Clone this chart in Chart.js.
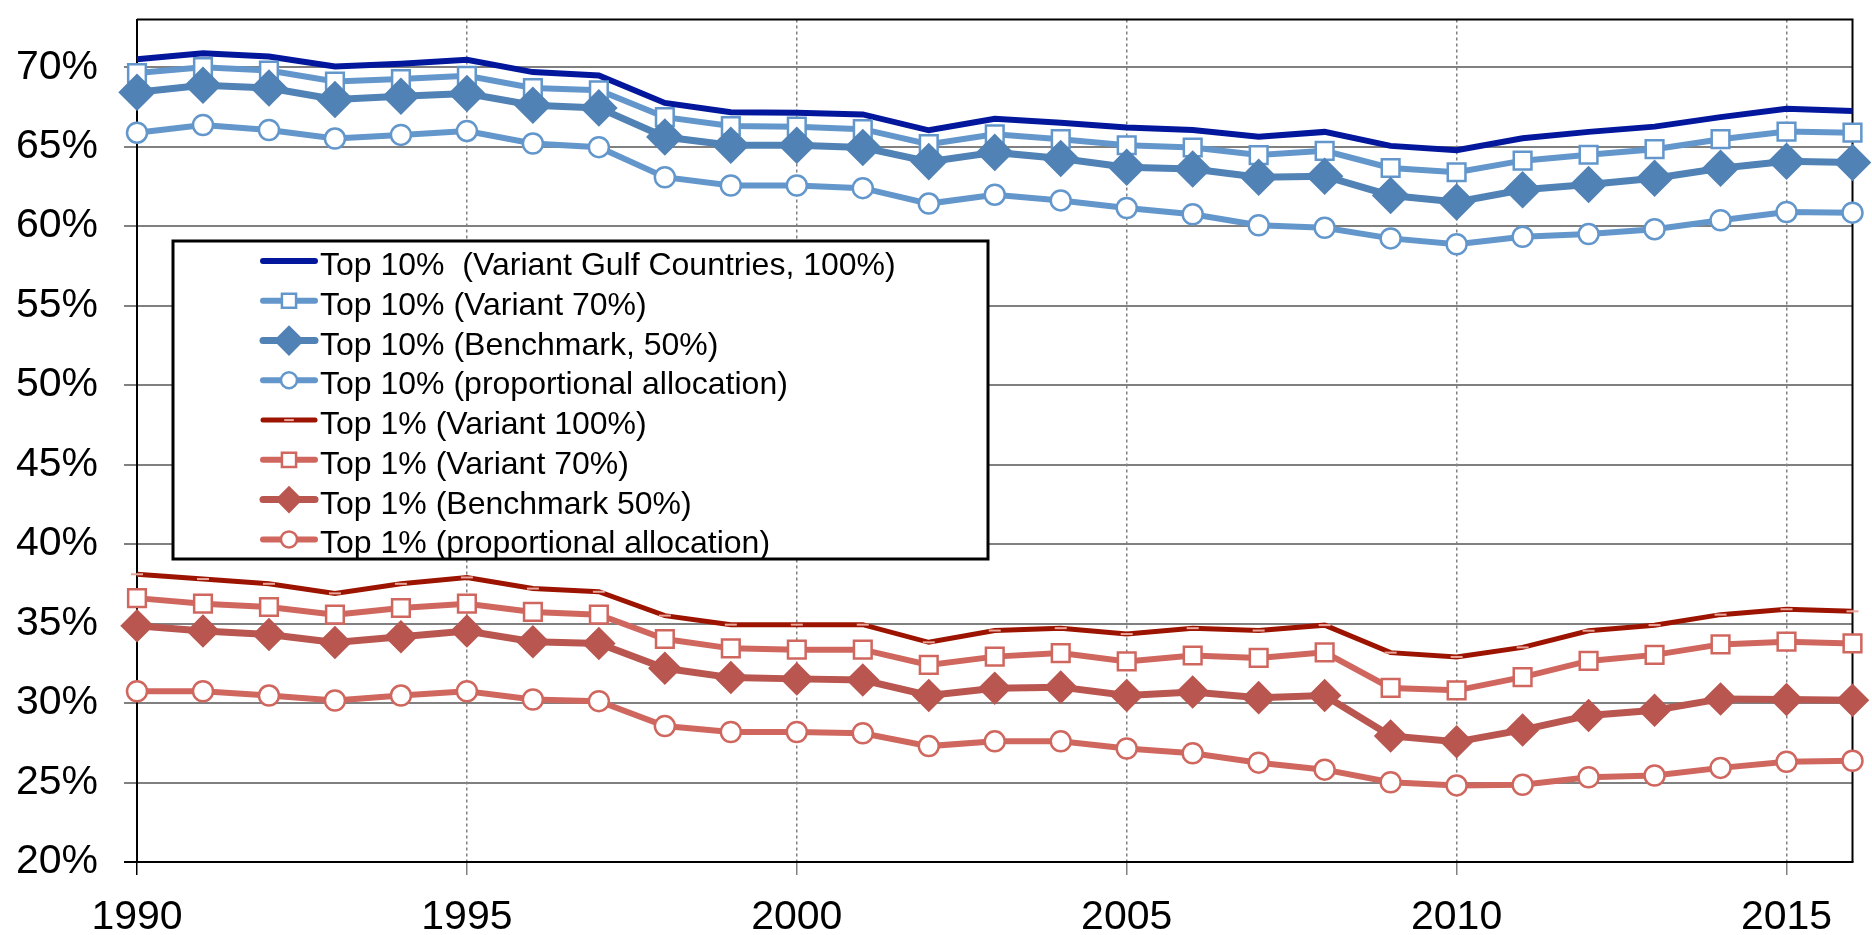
<!DOCTYPE html>
<html>
<head>
<meta charset="utf-8">
<script src="https://cdn.jsdelivr.net/npm/chart.js@4.4.0/dist/chart.umd.min.js"></script>
<style>
  html, body { margin: 0; padding: 0; background: #fff; }
  #wrap { width: 1872px; height: 935px; }
</style>
</head>
<body>
<div id="wrap"><canvas id="myChart"></canvas></div>
<script>
const years = [1990, 1991, 1992, 1993, 1994, 1995, 1996, 1997, 1998, 1999, 2000, 2001, 2002, 2003,
    2004, 2005, 2006, 2007, 2008, 2009, 2010, 2011, 2012, 2013, 2014, 2015, 2016];

const top10Gulf = [70.5, 70.87, 70.67, 70.04, 70.21, 70.46, 69.69, 69.48, 67.75, 67.17, 67.13, 67.03, 66.03, 66.76,
    66.51, 66.2, 66.05, 65.63, 65.93, 65.05, 64.78, 65.53, 65.93, 66.26, 66.86, 67.38, 67.24];
const top10V70 = [69.63, 70.0, 69.79, 69.1, 69.25, 69.46, 68.69, 68.55, 66.86, 66.3, 66.26, 66.1, 65.16, 65.78,
    65.47, 65.09, 64.95, 64.47, 64.74, 63.66, 63.39, 64.12, 64.49, 64.84, 65.47, 65.95, 65.88];
const top10Bench = [68.42, 68.86, 68.69, 67.97, 68.17, 68.34, 67.61, 67.44, 65.61, 65.09, 65.09, 64.95, 64.06, 64.64,
    64.26, 63.7, 63.6, 63.08, 63.14, 61.93, 61.52, 62.29, 62.62, 63.01, 63.64, 64.08, 64.01];
const top10Prop = [65.88, 66.36, 66.05, 65.51, 65.74, 65.99, 65.2, 64.97, 63.08, 62.56, 62.56, 62.39, 61.42, 61.98,
    61.62, 61.14, 60.75, 60.06, 59.9, 59.23, 58.86, 59.33, 59.5, 59.81, 60.37, 60.89, 60.85];
const top1V100 = [38.1, 37.8, 37.5, 36.9, 37.5, 37.9, 37.2, 37.0, 35.5, 34.93, 34.93, 34.93, 33.82, 34.56,
    34.71, 34.34, 34.71, 34.56, 34.9, 33.17, 32.9, 33.5, 34.55, 34.9, 35.56, 35.9, 35.77];
const top1V70 = [36.6, 36.25, 36.04, 35.56, 35.98, 36.25, 35.73, 35.56, 34.03, 33.44, 33.36, 33.36, 32.4, 32.92,
    33.14, 32.62, 32.99, 32.84, 33.19, 30.95, 30.8, 31.63, 32.65, 33.03, 33.69, 33.86, 33.75];
const top1Bench = [34.86, 34.53, 34.31, 33.81, 34.17, 34.53, 33.86, 33.75, 32.19, 31.6, 31.52, 31.45, 30.48, 30.93,
    31.0, 30.48, 30.7, 30.34, 30.47, 27.93, 27.56, 28.31, 29.22, 29.55, 30.26, 30.22, 30.18];
const top1Prop = [30.74, 30.74, 30.47, 30.16, 30.47, 30.74, 30.22, 30.12, 28.55, 28.18, 28.18, 28.1, 27.29, 27.59,
    27.59, 27.14, 26.84, 26.25, 25.81, 25.02, 24.82, 24.86, 25.33, 25.44, 25.92, 26.31, 26.37];

const seriesLabels = [
    'Top 10%  (Variant Gulf Countries, 100%)',
    'Top 10% (Variant 70%)',
    'Top 10% (Benchmark, 50%)',
    'Top 10% (proportional allocation)',
    'Top 1% (Variant 100%)',
    'Top 1% (Variant 70%)',
    'Top 1% (Benchmark 50%)',
    'Top 1% (proportional allocation)'
];

const yTicks = [20, 25, 30, 35, 40, 45, 50, 55, 60, 65, 70];
const xTicks = [1990, 1995, 2000, 2005, 2010, 2015];

Chart.defaults.font.family = "'Liberation Sans', Arial, sans-serif";
Chart.defaults.color = '#000';

function pts(vals) {
    return years.map((yr, i) => ({x: yr, y: vals[i]}));
}

function ds(label, vals, color, width, style, radius, fill, ptBorder, ptWidth) {
    return {
        label: label,
        data: pts(vals),
        borderColor: color,
        backgroundColor: fill,
        borderWidth: width,
        pointStyle: style,
        pointRadius: radius,
        pointHoverRadius: radius,
        pointBackgroundColor: fill,
        pointBorderColor: ptBorder || color,
        pointBorderWidth: ptWidth || 2.5,
        tension: 0,
        clip: false
    };
}

const datasets = [
    ds(seriesLabels[0], top10Gulf, '#03179c', 6, 'circle', 0, '#03179c'),
    ds(seriesLabels[1], top10V70, '#6397cc', 6, 'rect', 12.5, '#fff'),
    ds(seriesLabels[2], top10Bench, '#5182b6', 7, 'rectRot', 17, '#5182b6'),
    ds(seriesLabels[3], top10Prop, '#6397cc', 6, 'circle', 10, '#fff'),
    ds(seriesLabels[4], top1V100, '#9c1400', 5, 'line', 6, '#9c1400', '#eaa79c', 2),
    ds(seriesLabels[5], top1V70, '#d0675f', 6, 'rect', 12.5, '#fff'),
    ds(seriesLabels[6], top1Bench, '#b9564f', 7, 'rectRot', 15, '#b9564f'),
    ds(seriesLabels[7], top1Prop, '#d0675f', 6, 'circle', 10, '#fff')
];
// later series on top, like the original
datasets.forEach((d, i) => { d.order = datasets.length - i; });

const frame = {
    id: 'frame',
    beforeDatasetsDraw(chart) {
        const a = chart.chartArea, ctx = chart.ctx;
        ctx.save();
        ctx.strokeStyle = '#000';
        ctx.lineWidth = 2;
        ctx.beginPath();
        ctx.moveTo(a.left, a.top);
        ctx.lineTo(a.right, a.top);
        ctx.lineTo(a.right, a.bottom);
        ctx.stroke();
        ctx.restore();
    }
};

const boxLegend = {
    id: 'boxLegend',
    afterDatasetsDraw(chart) {
        const ctx = chart.ctx;
        const bx = 173, by = 241, bw = 815, bh = 318, row = 39.77;
        ctx.save();
        ctx.fillStyle = '#fff';
        ctx.fillRect(bx, by, bw, bh);
        ctx.lineWidth = 3;
        ctx.strokeStyle = '#000';
        ctx.strokeRect(bx, by, bw, bh);
        chart.data.datasets.forEach((d, i) => {
            const ly = by + 20 + i * row;
            ctx.strokeStyle = d.borderColor;
            ctx.lineWidth = d.borderWidth;
            ctx.lineCap = 'round';
            ctx.beginPath();
            ctx.moveTo(263, ly);
            ctx.lineTo(315, ly);
            ctx.stroke();
            if (d.pointRadius > 0) {
                ctx.fillStyle = d.pointBackgroundColor;
                ctx.strokeStyle = d.pointBorderColor;
                ctx.lineWidth = d.pointBorderWidth;
                ctx.lineCap = 'butt';
                Chart.helpers.drawPoint(ctx, {
                    pointStyle: d.pointStyle,
                    radius: d.pointRadius * 0.8,
                    borderWidth: d.pointBorderWidth,
                    rotation: 0
                }, 289, ly);
            }
            ctx.fillStyle = '#000';
            ctx.font = "32px 'Liberation Sans', Arial, sans-serif";
            ctx.textBaseline = 'alphabetic';
            ctx.textAlign = 'left';
            ctx.fillText(d.label, 320, ly + 14);
        });
        ctx.restore();
    }
};

const ctx = document.getElementById('myChart');
new Chart(ctx, {
    type: 'line',
    data: {datasets: datasets},
    options: {
        responsive: true,
        maintainAspectRatio: false,
        animation: false,
        events: [],
        layout: {padding: {left: 0, top: 13, right: 10, bottom: 0}},
        plugins: {legend: {display: false}, tooltip: {enabled: false}},
        scales: {
            x: {
                type: 'linear',
                min: 1990,
                max: 2016,
                afterBuildTicks: s => { s.ticks = xTicks.map(v => ({value: v})); },
                afterFit: s => { s.height = 73; s.paddingLeft = 0; s.paddingRight = 0; },
                grid: {
                    color: '#808080',
                    lineWidth: 1.5,
                    tickLength: 13,
                    tickColor: c => c.index === 0 ? '#000' : '#808080'
                },
                border: {display: true, color: '#000', width: 2, dash: [3, 3]},
                ticks: {
                    font: {size: 41},
                    padding: 18,
                    maxRotation: 0,
                    callback: v => String(v)
                }
            },
            y: {
                type: 'linear',
                min: 20,
                max: 73,
                afterBuildTicks: s => { s.ticks = yTicks.map(v => ({value: v})); },
                afterFit: s => { s.width = 137; s.paddingTop = 0; s.paddingBottom = 0; },
                grid: {
                    color: '#808080',
                    lineWidth: 2,
                    tickLength: 13,
                    tickColor: c => c.index === 0 ? '#000' : '#808080'
                },
                border: {display: true, color: '#000', width: 2},
                ticks: {
                    font: {size: 41},
                    padding: 26,
                    callback: v => v + '%'
                }
            }
        }
    },
    plugins: [frame, boxLegend]
});
</script>
</body>
</html>
